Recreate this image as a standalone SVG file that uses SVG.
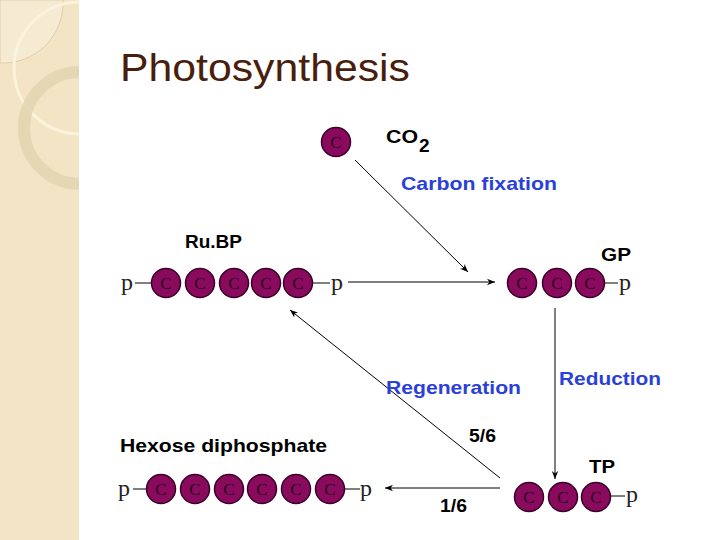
<svg xmlns="http://www.w3.org/2000/svg" width="720" height="540" viewBox="0 0 720 540">
<defs>
<marker id="ah" viewBox="0 0 10 10" refX="10" refY="5" markerWidth="8" markerHeight="8" orient="auto" markerUnits="userSpaceOnUse"><path d="M0,1 L10,5 L0,9 L3,5 z" fill="#000"/></marker>
<g id="c"><circle r="14.5" fill="#8a0b5e" stroke="#3a0028" stroke-width="1.5"/><text y="6" text-anchor="middle" font-family="Liberation Serif, serif" font-size="17" fill="#2a0020">C</text></g>
<clipPath id="sb"><rect width="79" height="540"/></clipPath>
</defs>
<style>
.lbl{font-family:"Liberation Sans",Arial,sans-serif;font-weight:bold;font-size:19px;fill:#000}
.blue{font-family:"Liberation Sans",Arial,sans-serif;font-weight:bold;font-size:19px;fill:#2b3fd9}
.p{font-family:"Liberation Serif",serif;font-size:24px;fill:#222}
.ln{stroke:#000;stroke-width:1;fill:none}
</style>
<rect width="720" height="540" fill="#fff"/>
<g id="sidebar" clip-path="url(#sb)">
<rect width="79" height="540" fill="#f2e4c4"/>
<path d="M0,0 H63 A60,60 0 0 1 0,63 Z" fill="#f5ead2" stroke="#e0cfa8"/>
<circle cx="80" cy="68" r="66" fill="none" stroke="#fbf3dc" stroke-width="3"/>
<circle cx="80" cy="128" r="56" fill="none" stroke="#e2d3b0" stroke-width="12" opacity="0.8"/>
</g>
<text x="120" y="81" font-family="Liberation Sans,Arial,sans-serif" font-size="38" textLength="290" lengthAdjust="spacingAndGlyphs" fill="#4a1e0c">Photosynthesis</text>
<g id="connectors">
<line class="ln" x1="355" y1="160" x2="468" y2="272" marker-end="url(#ah)"/>
<line class="ln" x1="348" y1="282" x2="495" y2="282" marker-end="url(#ah)"/>
<line class="ln" x1="555" y1="308" x2="555" y2="479" marker-end="url(#ah)"/>
<line class="ln" x1="500" y1="478" x2="290" y2="310" marker-end="url(#ah)"/>
<line class="ln" x1="500" y1="488" x2="385" y2="488" marker-end="url(#ah)"/>
</g>
<g id="co2"><use href="#c" x="336" y="142"/><text class="lbl" x="386" y="143" textLength="32" lengthAdjust="spacingAndGlyphs">CO</text><text class="lbl" x="419" y="152">2</text></g>
<text class="blue" x="401" y="190" textLength="156" lengthAdjust="spacingAndGlyphs">Carbon fixation</text>
<g id="rubp">
<text class="lbl" x="185" y="248" textLength="57" lengthAdjust="spacingAndGlyphs">Ru.BP</text>
<line class="ln" x1="135" y1="283" x2="152" y2="283"/><line class="ln" x1="310" y1="283" x2="330" y2="283"/>
<text class="p" x="121" y="290">p</text><text class="p" x="331" y="290">p</text>
<use href="#c" x="166" y="283"/><use href="#c" x="200" y="283"/><use href="#c" x="234" y="283"/><use href="#c" x="266" y="283"/><use href="#c" x="298" y="283"/>
</g>
<g id="gp">
<text class="lbl" x="601" y="261" textLength="30" lengthAdjust="spacingAndGlyphs">GP</text>
<line class="ln" x1="604" y1="283" x2="618" y2="283"/>
<use href="#c" x="522" y="283"/><use href="#c" x="557" y="283"/><use href="#c" x="590" y="283"/>
<text class="p" x="619" y="290">p</text>
</g>
<text class="blue" x="559" y="385" textLength="102" lengthAdjust="spacingAndGlyphs">Reduction</text>
<text class="blue" x="386" y="394" textLength="135" lengthAdjust="spacingAndGlyphs">Regeneration</text>
<text class="lbl" x="469" y="442" textLength="27" lengthAdjust="spacingAndGlyphs">5/6</text>
<text class="lbl" x="440" y="512" textLength="27" lengthAdjust="spacingAndGlyphs">1/6</text>
<g id="tp">
<text class="lbl" x="589" y="473" textLength="26" lengthAdjust="spacingAndGlyphs">TP</text>
<line class="ln" x1="610" y1="496" x2="625" y2="496"/>
<use href="#c" x="529" y="497"/><use href="#c" x="563" y="497"/><use href="#c" x="596" y="497"/>
<text class="p" x="626" y="502">p</text>
</g>
<g id="hexose">
<text class="lbl" x="120" y="452" textLength="207" lengthAdjust="spacingAndGlyphs">Hexose diphosphate</text>
<line class="ln" x1="133" y1="489" x2="148" y2="489"/><line class="ln" x1="344" y1="489" x2="360" y2="489"/>
<text class="p" x="118" y="496">p</text><text class="p" x="360" y="496">p</text>
<use href="#c" x="161" y="489"/><use href="#c" x="195" y="489"/><use href="#c" x="229" y="489"/><use href="#c" x="262" y="489"/><use href="#c" x="296" y="489"/><use href="#c" x="330" y="489"/>
</g>
</svg>
